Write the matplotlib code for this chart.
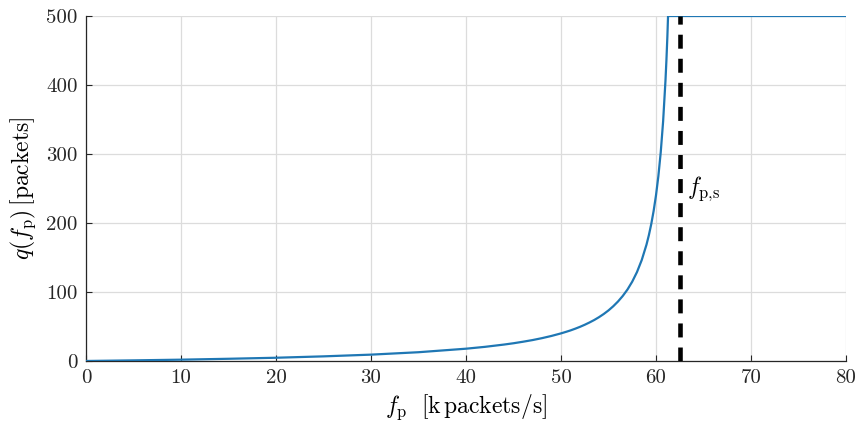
import matplotlib
matplotlib.use("Agg")
import matplotlib.pyplot as plt

plt.rcParams["mathtext.fontset"] = "cm"
plt.rcParams["font.family"] = "serif"
plt.rcParams["font.serif"] = ["cmr10", "DejaVu Serif"]
plt.rcParams["axes.formatter.use_mathtext"] = True

# queue length, f_p in k packets/s
f_p = [0, 5, 10, 15, 20, 25, 30, 35, 40, 42, 44, 45, 46, 47, 48, 49, 50,
       50.5, 51, 51.5, 52, 52.5, 53, 53.5, 54, 54.5, 55, 55.5, 56, 56.5, 57,
       57.5, 58, 58.5, 59, 59.25, 59.5, 59.75, 60, 60.25, 60.5, 60.75, 61,
       61.1, 61.2, 61.27, 62, 70, 80]
q_len = [0, 0.9, 1.9, 3.2, 4.7, 6.7, 9.2, 12.7, 17.8, 20.5, 23.8, 25.7, 27.9,
         30.3, 33.1, 36.3, 40, 42.1, 44.3, 46.8, 49.5, 52.5, 55.8, 59.4, 63.5,
         68.1, 73.3, 79.3, 86.2, 94.2, 103.6, 115, 128.9, 146.3, 168.6, 182.3,
         198.3, 217.3, 240, 267.8, 302.5, 347.1, 406.7, 436.4, 470.8, 500,
         500, 500, 500]
f_ps = 62.5  # saturation rate (dashed line)

xticks = [0, 10, 20, 30, 40, 50, 60, 70, 80]
yticks = [0, 100, 200, 300, 400, 500]

fig = plt.figure(figsize=(8.6, 4.3), dpi=100)
ax = fig.add_axes([0.1, 0.1605, 0.8837, 0.8023])

ax.plot(f_p, q_len, color="#1f77b4", linewidth=1.6, zorder=3)
ax.axvline(f_ps, color="black", linewidth=3.3, linestyle=(0, (3.05, 2.2)), zorder=4)
ax.text(63.3, 250, r"$f_{\rm p{,}s}$", fontsize=17, va="center", ha="left")

ax.set_xlim(0, 80)
ax.set_ylim(0, 500)
ax.set_xticks(xticks)
ax.set_yticks(yticks)
ax.set_xticklabels([str(t) for t in xticks])
ax.set_yticklabels([str(t) for t in yticks])
ax.tick_params(direction="in", length=4.5, width=0.8, labelsize=15, colors="#262626", pad=6)
ax.grid(True, color="#dcdcdc", linewidth=0.9)
ax.set_axisbelow(True)
for s in ["top", "right"]:
    ax.spines[s].set_visible(False)
for s in ["left", "bottom"]:
    ax.spines[s].set_color("#262626")
    ax.spines[s].set_linewidth(0.9)

ax.set_xlabel(r"$f_{\rm p}\ \ [{\rm k\,packets/s}]$", fontsize=17, labelpad=4)
ax.set_ylabel(r"$q(f_{\rm p})\,[{\rm packets}]$", fontsize=17, labelpad=6)

fig.savefig("out.png", dpi=100)
